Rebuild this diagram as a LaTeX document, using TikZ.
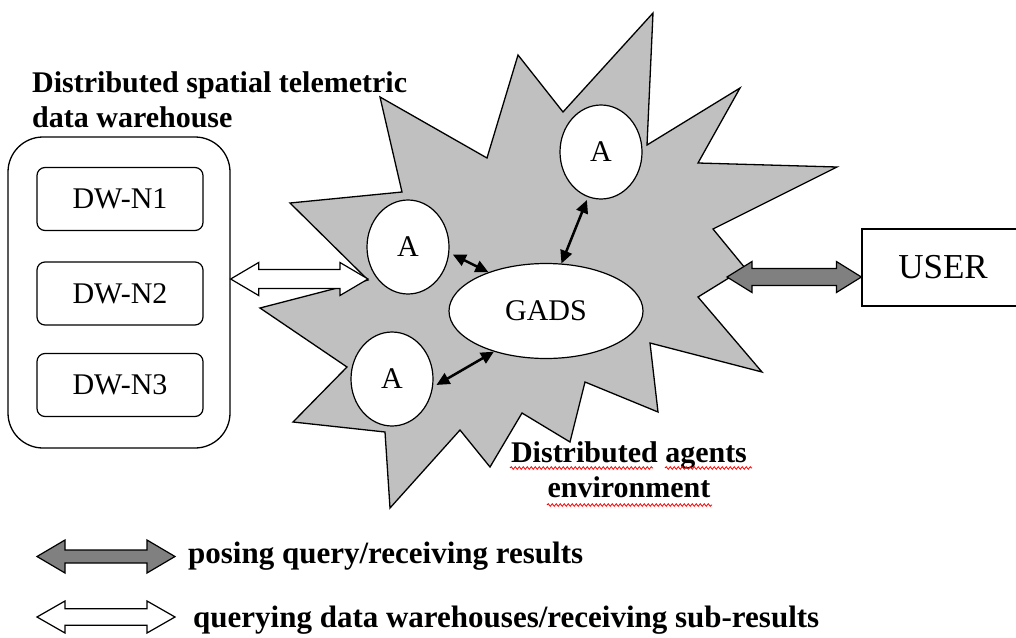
\documentclass[tikz,border=0pt]{standalone}
\usepackage{fontspec}
\setmainfont{Liberation Serif}
\usetikzlibrary{shapes.geometric,arrows.meta,calc,decorations.pathmorphing}
\definecolor{stargray}{RGB}{192,192,192}
\definecolor{arrgray}{RGB}{128,128,128}
% fat double arrow: #1 style, #2 left tip, #3 right tip, #4 head length, #5 head half width, #6 shaft half width
\newcommand\fatdbl[6]{%
  \draw[#1] (#2) -- ($(#2)+(#4,-#5)$) -- ($(#2)+(#4,-#6)$) -- ($(#3)+(-#4,-#6)$) -- ($(#3)+(-#4,-#5)$)
   -- (#3) -- ($(#3)+(-#4,#5)$) -- ($(#3)+(-#4,#6)$) -- ($(#2)+(#4,#6)$) -- ($(#2)+(#4,#5)$) -- cycle;}
\begin{document}
\begin{tikzpicture}[x=1pt,y=-1pt,
  starshape/.style={draw=black, line width=1.3pt, fill=stargray, line join=miter},
  agent/.style={ellipse, draw=black, line width=1.2pt, fill=white, minimum width=82pt,
    minimum height=94pt, inner sep=0pt, font=\fontsize{30}{36}\selectfont},
  gadsnode/.style={ellipse, draw=black, line width=1.2pt, fill=white, minimum width=194pt,
    minimum height=95pt, inner sep=0pt, font=\fontsize{30}{36}\selectfont},
  dwnode/.style={draw=black, rounded corners=8pt, line width=1.2pt, minimum width=166pt,
    minimum height=63pt, inner sep=0pt, font=\fontsize{30}{36}\selectfont},
  outerbox/.style={draw=black, rounded corners=35pt, line width=1.3pt, minimum width=222pt,
    minimum height=311pt, inner sep=0pt},
  userbox/.style={draw=black, line width=1.2pt, fill=white, minimum width=166pt,
    minimum height=77pt, inner sep=0pt, font=\fontsize{35}{40}\selectfont},
  agentlink/.style={line width=2.5pt, {Triangle[length=13pt,width=12pt]}-{Triangle[length=13pt,width=12pt]}},
  hollowarr/.style={draw=black, fill=white, line width=1.2pt, line join=miter},
  grayarr/.style={draw=black, fill=arrgray, line width=1.2pt, line join=miter},
  boldlabel/.style={inner sep=0pt, font=\fontsize{30}{35}\selectfont\bfseries},
  legendtext/.style={anchor=base west, inner sep=0pt, font=\fontsize{31}{36}\selectfont\bfseries},
  squig/.style={draw=red, line width=0.8pt, decorate, decoration={snake, segment length=4pt, amplitude=1.3pt}}
]
\useasboundingbox (0,0) rectangle (1016,637);
\clip (0,0) rectangle (1016,637);

% heading (base anchor = baseline of last line)
\node[boldlabel, anchor=base west, align=left] (title) at (32,127)
  {Distributed spatial telemetric\\data warehouse};

% data warehouse container
\node[outerbox] (dw) at (119,292.5) {};
\node[dwnode] (n1) at (120,199) {DW-N1};
\node[dwnode] (n2) at (120,293.5) {DW-N2};
\node[dwnode] (n3) at (120,385) {DW-N3};

% star (distributed agents environment)
\draw[starshape] (380,97) -- (487,158) -- (518,55) -- (563,112) -- (653,13) -- (647,145)
  -- (740,88) -- (698,163) -- (837,167) -- (713,229) -- (745,268) -- (698,297) -- (762,372)
  -- (650,343) -- (658,412) -- (585,382) -- (570,442) -- (522,413) -- (490,467) -- (460,430)
  -- (390,508) -- (385,432) -- (293,422) -- (347,367) -- (260,308) -- (368,280) -- (290,203)
  -- (402,192) -- cycle;
\coordinate (starL) at (368,279);
\coordinate (starR) at (727,277);

% agents and GADS
\node[gadsnode] (gads) at (546,311) {GADS};
\node[agent] (a1) at (408,247) {A};
\node[agent] (a2) at (601,152) {A};
\node[agent] (a3) at (392,379) {A};

\draw[agentlink, shorten <=4pt] (a1.-8) -- (gads.146);
\draw[agentlink, shorten <=3pt] (a2.254) -- (gads.72);
\draw[agentlink, shorten <=4pt] (a3.-11) -- (gads.218);

% user
\node[userbox] (user) at (945,267.5) {\hspace*{-4pt}USER};

% big arrows
\coordinate (hL) at (dw.east |- starL);
\fatdbl{hollowarr}{hL}{starL}{28}{16.5}{9.5}
\coordinate (gR) at (user.west |- starR);
\fatdbl{grayarr}{starR}{gR}{25}{15.5}{8.5}

% environment label
\node[boldlabel, anchor=base, align=center] (env) at (629,497)
  {Distributed agents\\environment};
\draw[squig] (510,468) -- (653,468);
\draw[squig] (665,468) -- (752,468);
\draw[squig] (547,505) -- (712,505);

% legend
\coordinate (lg1L) at (37,556.5);
\coordinate (lg1R) at (175,556.5);
\fatdbl{grayarr}{lg1L}{lg1R}{28}{16.5}{6.5}
\node[legendtext] (lt1) at (188,563) {posing query/receiving results};
\coordinate (lg2L) at (37,617);
\coordinate (lg2R) at (175,617);
\fatdbl{hollowarr}{lg2L}{lg2R}{28}{16}{8.3}
\node[legendtext] (lt2) at (193,627) {querying data warehouses/receiving sub-results};
\end{tikzpicture}
\end{document}
